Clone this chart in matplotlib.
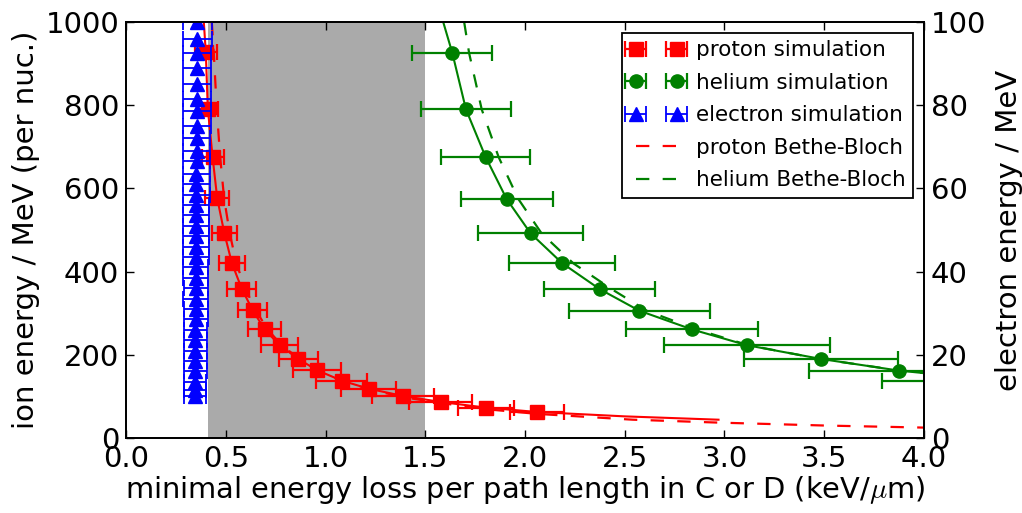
import matplotlib
matplotlib.use("Agg")
import matplotlib.pyplot as plt

plt.rcParams["mathtext.fontset"] = "cm"
plt.rcParams["font.size"] = 21

# proton simulation (ion energy in MeV per nucleon)
proton_energy = [927, 792, 675, 577, 492, 420, 359, 307, 261, 223, 190, 163, 138, 118.5, 101, 86.5, 73, 62.5]
proton_loss = [0.40, 0.41, 0.434, 0.457, 0.493, 0.531, 0.58, 0.635, 0.695, 0.77, 0.864, 0.957, 1.081, 1.216, 1.39, 1.578, 1.806, 2.06]
proton_loss_err = [0.055, 0.05, 0.055, 0.06, 0.064, 0.067, 0.074, 0.074, 0.083, 0.094, 0.097, 0.12, 0.127, 0.138, 0.155, 0.157, 0.14, 0.135]

# helium simulation
helium_energy = [925, 790, 675, 574.5, 492, 420, 358, 306, 261, 223, 190, 162, 138]
helium_loss = [1.636, 1.704, 1.803, 1.908, 2.028, 2.187, 2.374, 2.573, 2.837, 3.113, 3.484, 3.875, 4.25]
helium_loss_err = [0.2, 0.224, 0.222, 0.23, 0.264, 0.266, 0.277, 0.353, 0.33, 0.415, 0.387, 0.45, 0.46]

# electron simulation (electron energy in MeV, right axis)
electron_energy = [100, 96, 92.5, 89, 85, 81.5, 78.5, 75, 72, 69, 66.5, 63.5, 61, 58.5,
                   56, 53.5, 51, 48.5, 46, 43.5, 41, 38.5, 36, 33.5, 31, 28.5, 26,
                   23.5, 21, 18.5, 16, 13.5, 11.5, 10]
electron_loss = [0.357, 0.357, 0.356, 0.356, 0.356, 0.355, 0.355, 0.355, 0.354, 0.354, 0.354, 0.353, 0.353, 0.353,
                 0.352, 0.352, 0.352, 0.351, 0.351, 0.351, 0.350, 0.350, 0.350, 0.349, 0.349, 0.349, 0.348,
                 0.348, 0.348, 0.347, 0.347, 0.347, 0.346, 0.346]
electron_loss_err = [0.072, 0.072, 0.071, 0.071, 0.070, 0.070, 0.069, 0.069, 0.068, 0.068, 0.067, 0.067, 0.066, 0.066,
                     0.065, 0.065, 0.064, 0.064, 0.063, 0.063, 0.062, 0.062, 0.061, 0.061, 0.060, 0.060, 0.059,
                     0.059, 0.058, 0.058, 0.057, 0.056, 0.055, 0.054]

# fitted curves through the simulation points
proton_fit_loss = [0.39, 0.40, 0.41, 0.434, 0.457, 0.493, 0.531, 0.58, 0.635, 0.695, 0.77, 0.864, 0.957,
                   1.081, 1.216, 1.39, 1.578, 1.806, 2.06, 2.5, 2.97]
proton_fit_energy = [1000, 927, 792, 675, 577, 492, 420, 359, 307, 261, 223, 190, 163,
                     138, 118.5, 101, 86.5, 73, 62.5, 52, 44]
helium_fit_loss = [1.59, 1.636, 1.704, 1.803, 1.908, 2.028, 2.187, 2.374, 2.573, 2.837, 3.113, 3.484, 3.875, 4.0]
helium_fit_energy = [1000, 925, 790, 675, 574.5, 492, 420, 358, 306, 261, 223, 190, 162, 156]

# Bethe-Bloch
proton_bb_loss = [0.43, 0.44, 0.455, 0.472, 0.492, 0.52, 0.553, 0.598, 0.65, 0.71, 0.78, 0.87, 0.96,
                  1.08, 1.22, 1.39, 1.58, 1.81, 2.06, 2.54, 2.97, 3.5, 4.0]
proton_bb_energy = [1000, 925, 790, 675, 575, 492, 420, 359, 307, 261, 223, 190, 163,
                    138, 117, 98, 84, 69, 58, 44, 37, 30, 25]
helium_bb_loss = [1.695, 1.72, 1.783, 1.868, 1.966, 2.083, 2.242, 2.434, 2.61, 2.86, 3.12, 3.48, 3.88, 4.0]
helium_bb_energy = [1000, 925, 790, 675, 575, 492, 420, 358, 306, 261, 223, 190, 162, 156]

fig = plt.figure(figsize=(10.22, 5.13), dpi=100)
ax = fig.add_axes([0.1233, 0.1462, 0.7808, 0.8109])
ax2 = ax.twinx()

ax.axvspan(0.41, 1.5, color="#aaaaaa", lw=0, zorder=0)

err_kw = dict(linestyle="none", markersize=9.5, capsize=6, elinewidth=1.6, capthick=1.6)
h_p = ax.errorbar(proton_loss, proton_energy, xerr=proton_loss_err, fmt="s", color="red", mec="red", **err_kw)
h_he = ax.errorbar(helium_loss, helium_energy, xerr=helium_loss_err, fmt="o", color="green", mec="green", **err_kw)
ax.plot(proton_fit_loss, proton_fit_energy, color="red", lw=1.5)
ax.plot(helium_fit_loss, helium_fit_energy, color="green", lw=1.5)
h_pbb, = ax.plot(proton_bb_loss, proton_bb_energy, color="red", lw=1.6, ls=(0, (6, 6)))
h_hebb, = ax.plot(helium_bb_loss, helium_bb_energy, color="green", lw=1.6, ls=(0, (6, 6)))

h_e = ax2.errorbar(electron_loss, electron_energy, xerr=electron_loss_err, fmt="^", color="blue", mec="blue",
                   linestyle="none", markersize=9.5, capsize=6, elinewidth=1.3, capthick=1.3)

ax.set_xlim(0, 4)
ax.set_ylim(0, 1000)
ax2.set_ylim(0, 100)
ax.set_xticks([0.0, 0.5, 1.0, 1.5, 2.0, 2.5, 3.0, 3.5, 4.0])
ax.set_yticks([0, 200, 400, 600, 800, 1000])
ax2.set_yticks([0, 20, 40, 60, 80, 100])

ax.set_xlabel(r"minimal energy loss per path length in C or D (keV/$\mu$m)", fontsize=20.8, labelpad=1)
ax.set_ylabel("ion energy / MeV (per nuc.)", fontsize=21, labelpad=4)
ax2.set_ylabel("electron energy / MeV", fontsize=21, labelpad=6)

ax.tick_params(direction="in", top=True, right=False, length=6, width=1, labelsize=21, pad=5)
ax2.tick_params(direction="in", length=6, width=1, labelsize=21, pad=5)
for a in (ax, ax2):
    for s in a.spines.values():
        s.set_linewidth(1.3)

leg = ax2.legend([h_p, h_he, h_e, h_pbb, h_hebb],
                 ["proton simulation", "helium simulation", "electron simulation",
                  "proton Bethe-Bloch", "helium Bethe-Bloch"],
                 loc="upper right", numpoints=2, fontsize=15.5, fancybox=False, framealpha=1,
                 edgecolor="black", borderaxespad=0.5, borderpad=0.35, handlelength=2.5,
                 handletextpad=0.6, labelspacing=0.58)
leg.get_frame().set_linewidth(1.3)

fig.savefig("out.png", dpi=100)
